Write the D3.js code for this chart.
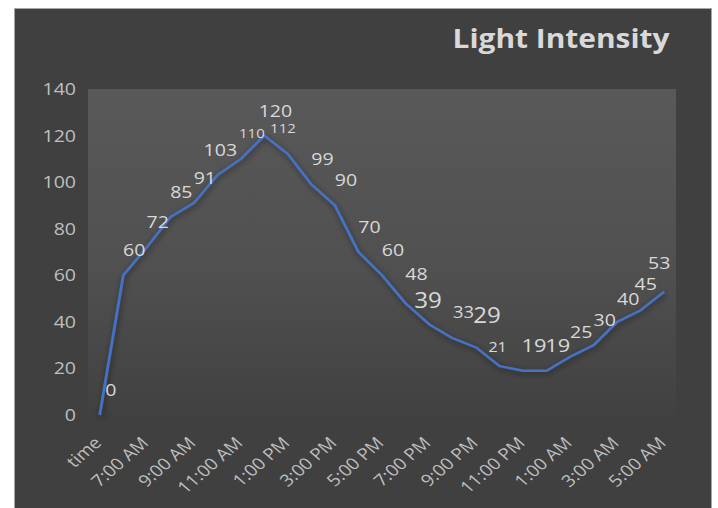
<!DOCTYPE html>
<html>
<head>
<meta charset="utf-8">
<title>Light Intensity</title>
<script src="https://cdn.jsdelivr.net/npm/d3@7"></script>
<style>
	body { margin: 0; background: #fff; }
	text { font-family: "Open Sans", sans-serif; }
</style>
</head>
<body>
<div id="chart"></div>
<script>
	// categories and values
	var categories = ['time', '6:00 AM', '7:00 AM', '8:00 AM', '9:00 AM', '10:00 AM', '11:00 AM',
		'12:00 PM', '1:00 PM', '2:00 PM', '3:00 PM', '4:00 PM', '5:00 PM', '6:00 PM', '7:00 PM',
		'8:00 PM', '9:00 PM', '10:00 PM', '11:00 PM', '12:00 AM', '1:00 AM', '2:00 AM', '3:00 AM',
		'4:00 AM', '5:00 AM'];
	var intensity = [0, 60, 72, 85, 91, 103, 110, 120, 112, 99, 90, 70, 60, 48, 39, 33, 29, 21, 19, 19, 25, 30, 40, 45, 53];
	var yTicks = [0, 20, 40, 60, 80, 100, 120, 140];

	var width = 718,
		height = 508,
		sx = 1.15; // the picture is a bit wider than tall, stretch everything

	var plot = { left: 88, right: 676, top: 89, bottom: 415 };

	var svg = d3.select('#chart').append('svg')
		.attr('width', width)
		.attr('height', height);

	var defs = svg.append('defs');
	var grad = defs.append('linearGradient')
		.attr('id', 'plotBg')
		.attr('x1', 0).attr('y1', 0).attr('x2', 0).attr('y2', 1);
	grad.append('stop').attr('offset', '0%').attr('stop-color', '#595959');
	grad.append('stop').attr('offset', '55%').attr('stop-color', '#505050');
	grad.append('stop').attr('offset', '100%').attr('stop-color', '#414141');

	var shadow = defs.append('filter')
		.attr('id', 'shadow')
		.attr('x', '-20%').attr('y', '-20%').attr('width', '140%').attr('height', '140%');
	shadow.append('feGaussianBlur').attr('in', 'SourceAlpha').attr('stdDeviation', 3).attr('result', 'blur');
	shadow.append('feOffset').attr('in', 'blur').attr('dx', 1).attr('dy', 2).attr('result', 'off');
	shadow.append('feComponentTransfer').attr('in', 'off').attr('result', 'dark')
		.append('feFuncA').attr('type', 'linear').attr('slope', 0.55);
	var merge = shadow.append('feMerge');
	merge.append('feMergeNode').attr('in', 'dark');
	merge.append('feMergeNode').attr('in', 'SourceGraphic');

	// chart background
	svg.append('rect')
		.attr('x', 14.5).attr('y', 8.5)
		.attr('width', 697).attr('height', 510)
		.attr('fill', '#404040')
		.attr('stroke', '#a6a6a6')
		.attr('stroke-width', 1);

	svg.append('rect')
		.attr('x', plot.left).attr('y', plot.top)
		.attr('width', plot.right - plot.left)
		.attr('height', plot.bottom - plot.top)
		.attr('fill', 'url(#plotBg)');

	// everything with text goes in a stretched group
	var g = svg.append('g').attr('transform', 'scale(' + sx + ',1)');

	var x = d3.scalePoint()
		.domain(categories)
		.range([plot.left / sx, plot.right / sx])
		.padding(0.5);

	var y = d3.scaleLinear()
		.domain([0, 140])
		.range([plot.bottom, plot.top]);

	// y axis labels
	var yAxis = g.append('g')
		.attr('transform', 'translate(' + (76 / sx) + ',0)')
		.call(d3.axisLeft(y).tickValues(yTicks).tickSize(0).tickPadding(0));
	yAxis.select('.domain').remove();
	yAxis.selectAll('text')
		.attr('fill', '#bfbfbf')
		.style('font-size', '17px')
		.style('font-family', '"Open Sans", sans-serif');

	// x axis labels, every other category
	var shown = categories.filter(function(d, i) { return i % 2 === 0; });
	var xAxis = g.append('g')
		.attr('transform', 'translate(0,' + 424 + ')')
		.call(d3.axisBottom(x).tickValues(shown).tickSize(0).tickPadding(0));
	xAxis.select('.domain').remove();
	xAxis.selectAll('text')
		.attr('fill', '#bfbfbf')
		.style('font-size', '16.5px')
		.style('font-family', '"Open Sans", sans-serif')
		.attr('text-anchor', 'end')
		.attr('dy', 0)
		.attr('transform', 'translate(2,20) rotate(-45)');

	// the line
	var line = d3.line()
		.x(function(d, i) { return x(categories[i]); })
		.y(function(d) { return y(d); });

	g.append('path')
		.datum(intensity)
		.attr('d', line)
		.attr('fill', 'none')
		.attr('stroke', '#4472c4')
		.attr('stroke-width', 2.4)
		.attr('stroke-linejoin', 'round')
		.attr('filter', 'url(#shadow)');

	// data labels, a few were resized or dragged in the original
	function labelSize(i) {
		if (i === 6 || i === 8) return 13;
		if (i === 14 || i === 16) return 21;
		if (i === 18 || i === 19) return 19;
		if (i === 15) return 16;
		if (i === 17) return 14;
		return 17;
	}
	var nudgeX = { 5: -8, 8: -16, 14: -12, 17: -13, 23: -6, 24: -16 };
	var nudgeY = { 13: -4, 14: 2, 16: -6, 17: 6, 22: 2, 23: -1, 24: -4 };

	g.append('g').selectAll('text')
		.data(intensity)
		.enter()
		.append('text')
		.attr('x', function(d, i) { return x(categories[i]) + (11 + (nudgeX[i] || 0)) / sx; })
		.attr('y', function(d, i) { return y(d) - 26 + (nudgeY[i] || 0); })
		.attr('text-anchor', 'middle')
		.attr('dominant-baseline', 'central')
		.attr('fill', '#d9d9d9')
		.style('font-size', function(d, i) { return labelSize(i) + 'px'; })
		.text(function(d) { return d; });

	// title
	g.append('text')
		.attr('x', 561 / sx)
		.attr('y', 48)
		.attr('text-anchor', 'middle')
		.attr('fill', '#d9d9d9')
		.style('font-size', '26px')
		.style('font-weight', 'bold')
		.text('Light Intensity');
</script>
</body>
</html>
